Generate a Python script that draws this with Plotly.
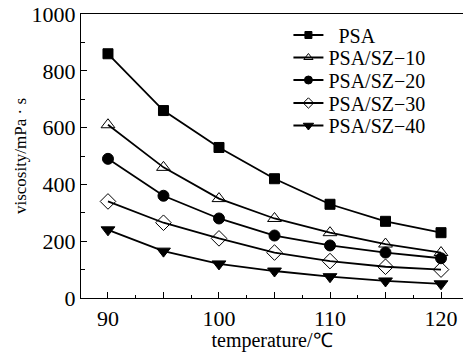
import plotly.graph_objects as go

temperature = [90, 95, 100, 105, 110, 115, 120]
psa = [860, 660, 530, 420, 330, 270, 230]
psa_sz10 = [610, 460, 350, 280, 230, 190, 160]
psa_sz20 = [490, 360, 280, 220, 185, 160, 140]
psa_sz30 = [340, 265, 210, 160, 130, 110, 100]
psa_sz40 = [240, 165, 120, 95, 75, 60, 50]

series_names = ["\u00a0\u00a0PSA", "PSA/SZ\u221210", "PSA/SZ\u221220", "PSA/SZ\u221230", "PSA/SZ\u221240"]
series_values = [psa, psa_sz10, psa_sz20, psa_sz30, psa_sz40]
symbols = ["square", "triangle-up-open", "circle", "diamond-open", "triangle-down"]
sizes = [10, 12, 11, 12, 12]
legend_sizes = [7, 8, 8, 8, 9]
legend_rows_px = [35, 57.5, 80, 103, 125.5]

x_tickvals = [90, 95, 100, 105, 110, 115, 120]
x_ticktext = ["90", "", "100", "", "110", "", "120"]
y_tickvals = [0, 200, 400, 600, 800, 1000]

FONT = "Liberation Serif"
PLOT_TOP, PLOT_BOTTOM = 14, 298

fig = go.Figure()
for name, vals, sym, sz in zip(series_names, series_values, symbols, sizes):
    fig.add_trace(go.Scatter(
        x=temperature, y=vals, name=name, mode="lines+markers",
        line=dict(color="black", width=1.8),
        marker=dict(symbol=sym, size=sz, color="black",
                    line=dict(color="black", width=1)),
        cliponaxis=False, showlegend=False,
    ))

legend_layouts = {}
for i, (name, sym, lsz, row) in enumerate(zip(series_names, symbols, legend_sizes, legend_rows_px)):
    key = "legend" if i == 0 else f"legend{i+1}"
    fig.add_trace(go.Scatter(
        x=[None], y=[None], name=name, mode="lines+markers",
        line=dict(color="black", width=2),
        marker=dict(symbol=sym, size=lsz, color="black",
                    line=dict(color="black", width=1)),
        showlegend=True, legend=key,
    ))
    legend_layouts[key] = dict(
        x=0.543, y=(PLOT_BOTTOM - row) / (PLOT_BOTTOM - PLOT_TOP),
        xanchor="left", yanchor="middle",
        bgcolor="rgba(0,0,0,0)", borderwidth=0,
        font=dict(family=FONT, size=20, color="black"),
        itemwidth=30,
    )

fig.update_layout(
    width=463, height=352,
    margin=dict(l=81, r=0, t=PLOT_TOP, b=352 - PLOT_BOTTOM),
    paper_bgcolor="white", plot_bgcolor="white",
    font=dict(family=FONT, size=20, color="black"),
    xaxis=dict(
        range=[87.57, 121.98], showgrid=False, zeroline=False,
        showline=True, linecolor="black", linewidth=1.2, mirror=True,
        ticks="inside", ticklen=6, tickcolor="black", tickwidth=1,
        tickvals=x_tickvals, ticktext=x_ticktext,
        minor=dict(ticks="inside", ticklen=3, dtick=2.5, tick0=90, tickcolor="black"),
        title=dict(text="temperature/\u2103", font=dict(family=FONT, size=20), standoff=4),
        tickfont=dict(family=FONT, size=22),
    ),
    yaxis=dict(
        range=[0, 1000], showgrid=False, zeroline=False,
        showline=True, linecolor="black", linewidth=1.2,
        ticks="inside", ticklen=6, tickcolor="black", tickwidth=1,
        tickvals=y_tickvals,
        minor=dict(ticks="inside", ticklen=4, dtick=100, tickcolor="black"),
        title=dict(text="viscosity/mPa \u00b7 s", font=dict(family=FONT, size=17), standoff=0),
        tickfont=dict(family=FONT, size=22),
    ),
    **legend_layouts,
)

fig.write_html("out.html")
